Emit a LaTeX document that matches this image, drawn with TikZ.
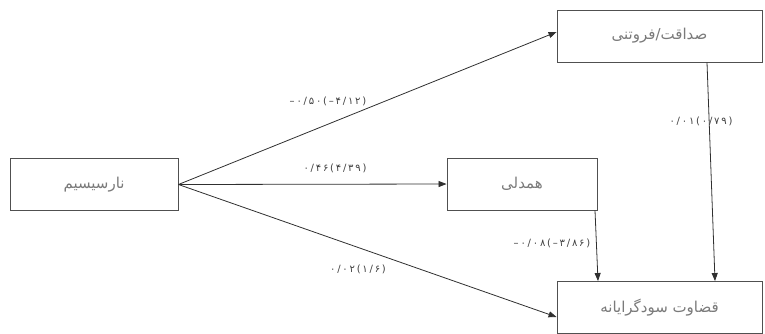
\documentclass[tikz,border=0pt]{standalone}
\usepackage{fontspec}
\TeXXeTstate=1
\newfontfamily\arabicfont[Script=Arabic]{DejaVu Sans}
\newfontfamily\digitfont[LetterSpace=18]{DejaVu Sans}
\usetikzlibrary{arrows.meta}
\definecolor{boxline}{HTML}{505050}
\definecolor{boxtext}{HTML}{7A7A7A}
\definecolor{arrowcol}{HTML}{303030}
\definecolor{labcol}{HTML}{404040}
\tikzset{
  varbox/.style={draw=boxline, line width=0.9pt, minimum height=52pt, inner sep=0pt,
    font=\arabicfont\fontsize{15}{17}\selectfont, text=boxtext},
  conn/.style={draw=arrowcol, line width=0.8pt, -{Triangle[length=8pt,width=6pt]}},
  coef/.style={font=\digitfont\fontsize{10}{12}\selectfont, text=labcol, inner sep=1pt}
}
\begin{document}
\begin{tikzpicture}[x=1pt,y=-1pt]
\useasboundingbox (0,0) rectangle (765,333);
\node[varbox, minimum width=168pt] (n) at (94,184.5) {\beginR نارسیسیم\endR};
\node[varbox, minimum width=205pt] (s) at (659.5,36) {\beginR صداقت/فروتنی\endR};
\node[varbox, minimum width=150pt] (h) at (522,184) {\beginR همدلی\endR};
\node[varbox, minimum width=205pt] (q) at (659.5,307.5) {\beginR قضاوت سودگرایانه\endR};
\draw[conn] (n.east) -- ([yshift=4pt]s.west);
\draw[conn] (n.east) -- (h.west);
\draw[conn] (n.east) -- ([yshift=-9.5pt]q.west);
\draw[conn] ([xshift=47.5pt]s.south) -- ([xshift=55.5pt]q.north);
\draw[conn] ([xshift=73pt]h.south) -- ([xshift=-61.5pt]q.north);
\node[coef] (l1) at (328,101) {–۰/۵۰(–۴/۱۲)};
\node[coef] (l2) at (335,168) {۰/۴۶(۴/۳۹)};
\node[coef] (l3) at (358,269) {۰/۰۲(۱/۶)};
\node[coef] (l4) at (552,243) {–۰/۰۸(–۳/۸۶)};
\node[coef] (l5) at (701,121) {۰/۰۱(۰/۷۹)};
\end{tikzpicture}
\end{document}
